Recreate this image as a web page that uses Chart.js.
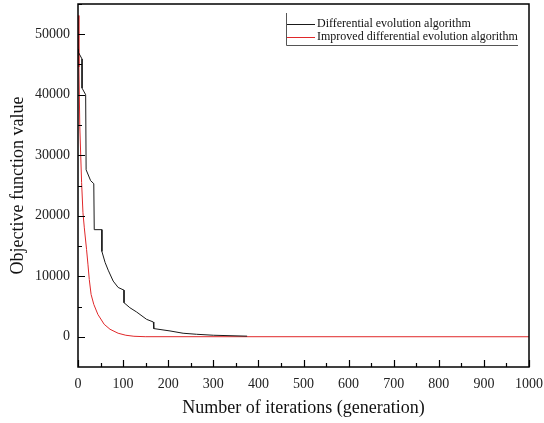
<!DOCTYPE html>
<html>
<head>
<meta charset="utf-8">
<script src="https://cdn.jsdelivr.net/npm/chart.js@4.4.0/dist/chart.umd.min.js"></script>
<style>
    html, body { margin: 0; padding: 0; background: #fff; }
    #wrap { width: 544px; height: 423px; }
</style>
</head>
<body>
<div id="wrap"><canvas id="chartConvergence"></canvas></div>
<script>
// Differential evolution algorithm (black)
const deIterations = [0, 1, 9, 9, 17, 18, 28, 35, 36, 53, 53, 60, 67, 78, 89, 102, 102, 115, 130, 152, 167, 168, 204, 233, 263, 300, 375];
const deValues = [47500, 47000, 45900, 41100, 40000, 27600, 25800, 25300, 17700, 17700, 14100, 12300, 11000, 9200, 8150, 7700, 5630, 4800, 4090, 2880, 2440, 1350, 960, 580, 410, 250, 100];

// Improved differential evolution algorithm (red)
const ideIterations = [0, 2, 4, 8, 11, 14, 19, 22, 25, 29, 35, 44, 58, 71, 89, 106, 124, 149, 1000];
const ideValues = [53100, 44600, 34700, 25500, 20500, 18000, 14400, 12000, 9470, 7000, 5350, 3700, 2060, 1235, 580, 250, 80, 10, 0];

const xTicks = [0, 100, 200, 300, 400, 500, 600, 700, 800, 900, 1000];
const yTicks = [0, 10000, 20000, 30000, 40000, 50000];

const seriesLabels = ['Differential evolution algorithm', 'Improved differential evolution algorithm'];
const seriesColors = ['#1a1a1a', '#e0282a'];

const FONT = 'Liberation Serif, Times New Roman, serif';

const toPoints = (xs, ys) => xs.map((x, i) => ({ x: x, y: ys[i] }));

/**
 * Frame, inward ticks and legend
 */
const framePlugin = {
    id: 'frame',
    afterDraw(chart) {
        const { ctx, chartArea: a, scales } = chart;
        const xs = scales.x, ys = scales.y;
        ctx.save();
        ctx.strokeStyle = '#000';
        ctx.lineWidth = 1.5;
        ctx.strokeRect(a.left, a.top, a.right - a.left, a.bottom - a.top);

        // inward ticks, bottom axis
        ctx.lineWidth = 1.2;
        ctx.beginPath();
        xTicks.forEach((v, i) => {
            const px = Math.round(xs.getPixelForValue(v)) + 0.5;
            ctx.moveTo(px, a.bottom);
            ctx.lineTo(px, a.bottom - 7);
            if (i < xTicks.length - 1) {
                const mx = Math.round(xs.getPixelForValue((v + xTicks[i + 1]) / 2)) + 0.5;
                ctx.moveTo(mx, a.bottom);
                ctx.lineTo(mx, a.bottom - 4);
            }
        });
        // inward ticks, left axis
        yTicks.forEach((v) => {
            const py = Math.round(ys.getPixelForValue(v)) + 0.5;
            ctx.moveTo(a.left, py);
            ctx.lineTo(a.left + 7, py);
            const my = Math.round(ys.getPixelForValue(v + 5000)) + 0.5;
            ctx.moveTo(a.left, my);
            ctx.lineTo(a.left + 4, my);
        });
        ctx.stroke();

        // legend
        const lx = 286, ly = 13, lw = 232, lh = 32;
        ctx.strokeStyle = '#555';
        ctx.lineWidth = 1;
        ctx.beginPath();
        ctx.moveTo(lx + 0.5, ly);
        ctx.lineTo(lx + 0.5, ly + lh + 0.5);
        ctx.lineTo(lx + lw, ly + lh + 0.5);
        ctx.stroke();

        ctx.font = '12px ' + FONT;
        ctx.textBaseline = 'middle';
        ctx.fillStyle = '#111';
        seriesLabels.forEach((label, i) => {
            const yy = 23.5 + i * 13.5;
            ctx.strokeStyle = seriesColors[i];
            ctx.beginPath();
            ctx.moveTo(lx + 1, Math.round(yy) + 0.5);
            ctx.lineTo(lx + 29, Math.round(yy) + 0.5);
            ctx.stroke();
            ctx.fillText(label, lx + 31, yy);
        });
        ctx.restore();
    }
};

const ctx = document.getElementById('chartConvergence').getContext('2d');
new Chart(ctx, {
    type: 'line',
    data: {
        datasets: [
            {
                label: seriesLabels[0],
                data: toPoints(deIterations, deValues),
                borderColor: seriesColors[0],
                borderWidth: 1,
                pointRadius: 0,
                tension: 0
            },
            {
                label: seriesLabels[1],
                data: toPoints(ideIterations, ideValues),
                borderColor: seriesColors[1],
                borderWidth: 1,
                pointRadius: 0,
                tension: 0
            }
        ]
    },
    options: {
        responsive: true,
        maintainAspectRatio: false,
        animation: false,
        layout: { padding: { top: 4, right: 15, left: 0, bottom: 0 } },
        plugins: {
            legend: { display: false },
            tooltip: { enabled: false }
        },
        scales: {
            x: {
                type: 'linear',
                min: 0,
                max: 1000,
                afterBuildTicks: (scale) => { scale.ticks = xTicks.map(v => ({ value: v })); },
                afterFit: (scale) => {
                    scale.height = 56;
                    scale.paddingLeft = 0;
                    scale.paddingRight = 0;
                },
                grid: { display: false, drawTicks: false },
                border: { display: false },
                ticks: {
                    padding: 9,
                    color: '#222',
                    font: { family: FONT, size: 14 },
                    maxRotation: 0,
                    autoSkip: false,
                    callback: (v) => String(v)
                },
                title: {
                    display: true,
                    text: 'Number of iterations (generation)',
                    color: '#111',
                    font: { family: FONT, size: 18 },
                    padding: { top: 0, bottom: 4 }
                }
            },
            y: {
                type: 'linear',
                min: -5000,
                max: 55000,
                afterBuildTicks: (scale) => { scale.ticks = yTicks.map(v => ({ value: v })); },
                afterFit: (scale) => {
                    scale.width = 78;
                    scale.paddingTop = 0;
                    scale.paddingBottom = 0;
                },
                grid: { display: false, drawTicks: false },
                border: { display: false },
                ticks: {
                    padding: 8,
                    color: '#222',
                    font: { family: FONT, size: 14 },
                    callback: (v) => String(v)
                },
                title: {
                    display: true,
                    text: 'Objective function value',
                    color: '#111',
                    font: { family: FONT, size: 18 },
                    padding: { top: 7, bottom: 0 }
                }
            }
        }
    },
    plugins: [framePlugin]
});
</script>
</body>
</html>
